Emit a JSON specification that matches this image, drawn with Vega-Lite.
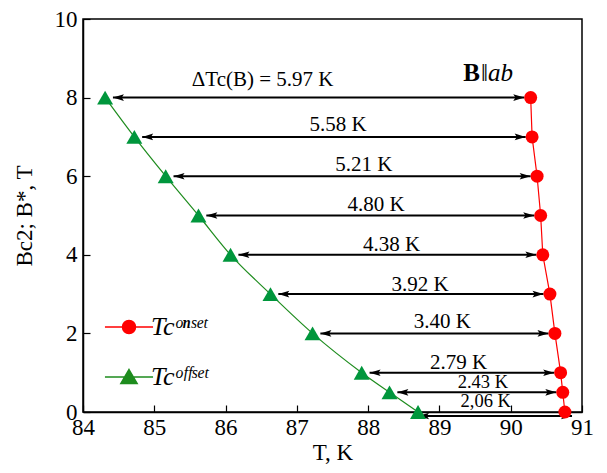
{
  "$schema": "https://vega.github.io/schema/vega-lite/v6.json",
  "width": 499,
  "height": 393,
  "autosize": {"type": "none"},
  "padding": {"left": 83, "top": 19, "right": 25, "bottom": 61},
  "background": "white",
  "config": {
    "view": {"stroke": "black", "strokeWidth": 1.5},
    "axis": {
      "grid": false,
      "domainColor": "black",
      "domainWidth": 1.5,
      "tickColor": "black",
      "tickWidth": 1.2,
      "labelColor": "black",
      "titleColor": "black",
      "labelFont": "Liberation Serif",
      "titleFont": "Liberation Serif",
      "labelFontSize": 23,
      "titleFontSize": 23,
      "titleFontWeight": "normal",
      "labelFlush": false,
      "labelOverlap": false
    }
  },
  "datasets": {
    "pts": [
      {"B": 8, "onset": 90.28, "offset": 84.31},
      {"B": 7, "onset": 90.30, "offset": 84.72},
      {"B": 6, "onset": 90.37, "offset": 85.16},
      {"B": 5, "onset": 90.42, "offset": 85.62},
      {"B": 4, "onset": 90.45, "offset": 86.07},
      {"B": 3, "onset": 90.55, "offset": 86.63},
      {"B": 2, "onset": 90.62, "offset": 87.22},
      {"B": 1, "onset": 90.70, "offset": 87.91},
      {"B": 0.5, "onset": 90.73, "offset": 88.30},
      {"B": 0, "onset": 90.76, "offset": 88.70}
    ],
    "arrows": [
      {"y": 8, "from": 84.42, "to": 90.19},
      {"y": 7, "from": 84.83, "to": 90.21},
      {"y": 6, "from": 85.27, "to": 90.28},
      {"y": 5, "from": 85.73, "to": 90.33},
      {"y": 4, "from": 86.18, "to": 90.36},
      {"y": 3, "from": 86.74, "to": 90.46},
      {"y": 2, "from": 87.33, "to": 90.53},
      {"y": 1, "from": 88.02, "to": 90.61},
      {"y": 0.5, "from": 88.41, "to": 90.64},
      {"y": -0.1, "from": 88.70, "to": 90.86}
    ],
    "labelsLarge": [
      {"text": "ΔTc(B) = 5.97 K", "x": 86.52, "y": 8.45},
      {"text": "5.58 K", "x": 87.58, "y": 7.30},
      {"text": "5.21 K", "x": 87.94, "y": 6.29},
      {"text": "4.80 K", "x": 88.11, "y": 5.27},
      {"text": "4.38 K", "x": 88.33, "y": 4.25},
      {"text": "3.92 K", "x": 88.73, "y": 3.23},
      {"text": "3.40 K", "x": 89.04, "y": 2.29},
      {"text": "2.79 K", "x": 89.27, "y": 1.25}
    ],
    "labelsSmall": [
      {"text": "2.43 K", "x": 89.61, "y": 0.76},
      {"text": "2,06 K", "x": 89.65, "y": 0.28}
    ],
    "legendSeries": [
      {"series": "onset", "x": 80, "y": 8},
      {"series": "offset", "x": 80, "y": 8}
    ]
  },
  "layer": [
    {
      "data": {"name": "pts"},
      "mark": {"type": "line", "color": "#ff0000", "strokeWidth": 1.2},
      "encoding": {
        "x": {
          "field": "onset", "type": "quantitative",
          "scale": {"domain": [84, 91], "nice": false, "zero": false},
          "axis": {
            "title": "T, K",
            "values": [84, 84.5, 85, 85.5, 86, 86.5, 87, 87.5, 88, 88.5, 89, 89.5, 90, 90.5, 91],
            "labelExpr": "datum.value % 1 == 0 ? format(datum.value, 'd') : ''",
            "tickSize": -7,
            "labelPadding": 11,
            "titlePadding": 2
          }
        },
        "y": {
          "field": "B", "type": "quantitative",
          "scale": {"domain": [0, 10], "nice": false, "zero": false},
          "axis": {
            "title": "Bc2; B*, T",
            "values": [0, 0.5, 1, 1.5, 2, 2.5, 3, 3.5, 4, 4.5, 5, 5.5, 6, 6.5, 7, 7.5, 8, 8.5, 9, 9.5, 10],
            "labelExpr": "datum.value % 2 == 0 ? format(datum.value, 'd') : ''",
            "tickSize": -7,
            "labelPadding": 13,
            "titlePadding": 18
          }
        },
        "order": {"field": "B", "type": "quantitative"}
      }
    },
    {
      "data": {"name": "pts"},
      "mark": {"type": "line", "color": "#1e8c1e", "strokeWidth": 1.2, "interpolate": "monotone"},
      "encoding": {
        "x": {"field": "offset", "type": "quantitative"},
        "y": {"field": "B", "type": "quantitative"},
        "order": {"field": "B", "type": "quantitative"}
      }
    },
    {
      "data": {"name": "arrows"},
      "mark": {"type": "rule", "color": "black", "strokeWidth": 2},
      "encoding": {
        "x": {"field": "from", "type": "quantitative"},
        "x2": {"field": "to"},
        "y": {"field": "y", "type": "quantitative"}
      }
    },
    {
      "data": {"name": "arrows"},
      "mark": {"type": "point", "shape": "M1,0L-1,-0.6L-0.6,0L-1,0.6Z", "filled": true, "color": "black", "opacity": 1, "size": 121, "xOffset": -5.5},
      "encoding": {
        "x": {"field": "to", "type": "quantitative"},
        "y": {"field": "y", "type": "quantitative"}
      }
    },
    {
      "data": {"name": "arrows"},
      "mark": {"type": "point", "shape": "M-1,0L1,-0.6L0.6,0L1,0.6Z", "filled": true, "color": "black", "opacity": 1, "size": 121, "xOffset": 5.5},
      "encoding": {
        "x": {"field": "from", "type": "quantitative"},
        "y": {"field": "y", "type": "quantitative"}
      }
    },
    {
      "data": {"name": "pts"},
      "mark": {"type": "point", "shape": "circle", "filled": true, "color": "#ff0000", "opacity": 1, "size": 169},
      "encoding": {
        "x": {"field": "onset", "type": "quantitative"},
        "y": {"field": "B", "type": "quantitative"}
      }
    },
    {
      "data": {"name": "pts"},
      "mark": {"type": "point", "shape": "triangle-up", "filled": true, "color": "#00963c", "opacity": 1, "size": 256},
      "encoding": {
        "x": {"field": "offset", "type": "quantitative"},
        "y": {"field": "B", "type": "quantitative"}
      }
    },
    {
      "data": {"name": "labelsLarge"},
      "mark": {"type": "text", "font": "Liberation Serif", "fontSize": 21, "color": "black", "align": "center", "baseline": "middle"},
      "encoding": {
        "x": {"field": "x", "type": "quantitative"},
        "y": {"field": "y", "type": "quantitative"},
        "text": {"field": "text"}
      }
    },
    {
      "data": {"name": "labelsSmall"},
      "mark": {"type": "text", "font": "Liberation Serif", "fontSize": 18.5, "color": "black", "align": "center", "baseline": "middle"},
      "encoding": {
        "x": {"field": "x", "type": "quantitative"},
        "y": {"field": "y", "type": "quantitative"},
        "text": {"field": "text"}
      }
    },
    {
      "data": {"values": [{"text": "B", "x": 89.57, "y": 8.63}]},
      "mark": {"type": "text", "font": "Liberation Serif", "fontSize": 25, "fontWeight": "bold", "color": "black", "align": "right", "baseline": "middle"},
      "encoding": {
        "x": {"field": "x", "type": "quantitative"},
        "y": {"field": "y", "type": "quantitative"},
        "text": {"field": "text"}
      }
    },
    {
      "data": {"values": [{"text": "‖ab", "x": 89.57, "y": 8.63}]},
      "mark": {"type": "text", "font": "Liberation Serif", "fontSize": 25, "fontStyle": "italic", "color": "black", "align": "left", "baseline": "middle", "dx": 1},
      "encoding": {
        "x": {"field": "x", "type": "quantitative"},
        "y": {"field": "y", "type": "quantitative"},
        "text": {"field": "text"}
      }
    },
    {
      "data": {"name": "legendSeries"},
      "mark": {"type": "point", "filled": true, "clip": true, "opacity": 1, "strokeWidth": 1.5},
      "encoding": {
        "x": {"field": "x", "type": "quantitative"},
        "y": {"field": "y", "type": "quantitative"},
        "color": {
          "field": "series", "type": "nominal",
          "scale": {"domain": ["onset", "offset"], "range": ["#ff0000", "#1e8c1e"]},
          "legend": {
            "title": null,
            "orient": "none",
            "legendX": 33,
            "legendY": 295,
            "padding": 0,
            "symbolOpacity": 1,
            "symbolSize": 169,
            "symbolStrokeWidth": 1.5,
            "labelFont": "Liberation Serif",
            "labelFontSize": 26,
            "labelFontStyle": "italic",
            "labelColor": "black",
            "labelOffset": 9,
            "rowPadding": 24,
            "labelExpr": "datum.value == 'onset' ? 'Tcᵒⁿˢᵉᵗ' : 'Tcᵒᶠᶠˢᵉᵗ'"
          }
        },
        "stroke": {
          "field": "series", "type": "nominal",
          "scale": {"domain": ["onset", "offset"], "range": ["#ff0000", "#1e8c1e"]}
        },
        "shape": {
          "field": "series", "type": "nominal",
          "scale": {
            "domain": ["onset", "offset"],
            "range": [
              "M-3.7,0H3.7M1,0A1,1 0 1,1 -1,0A1,1 0 1,1 1,0Z",
              "M-3.7,0H3.7M0,-1.15L1.25,1L-1.25,1Z"
            ]
          }
        }
      }
    }
  ]
}
